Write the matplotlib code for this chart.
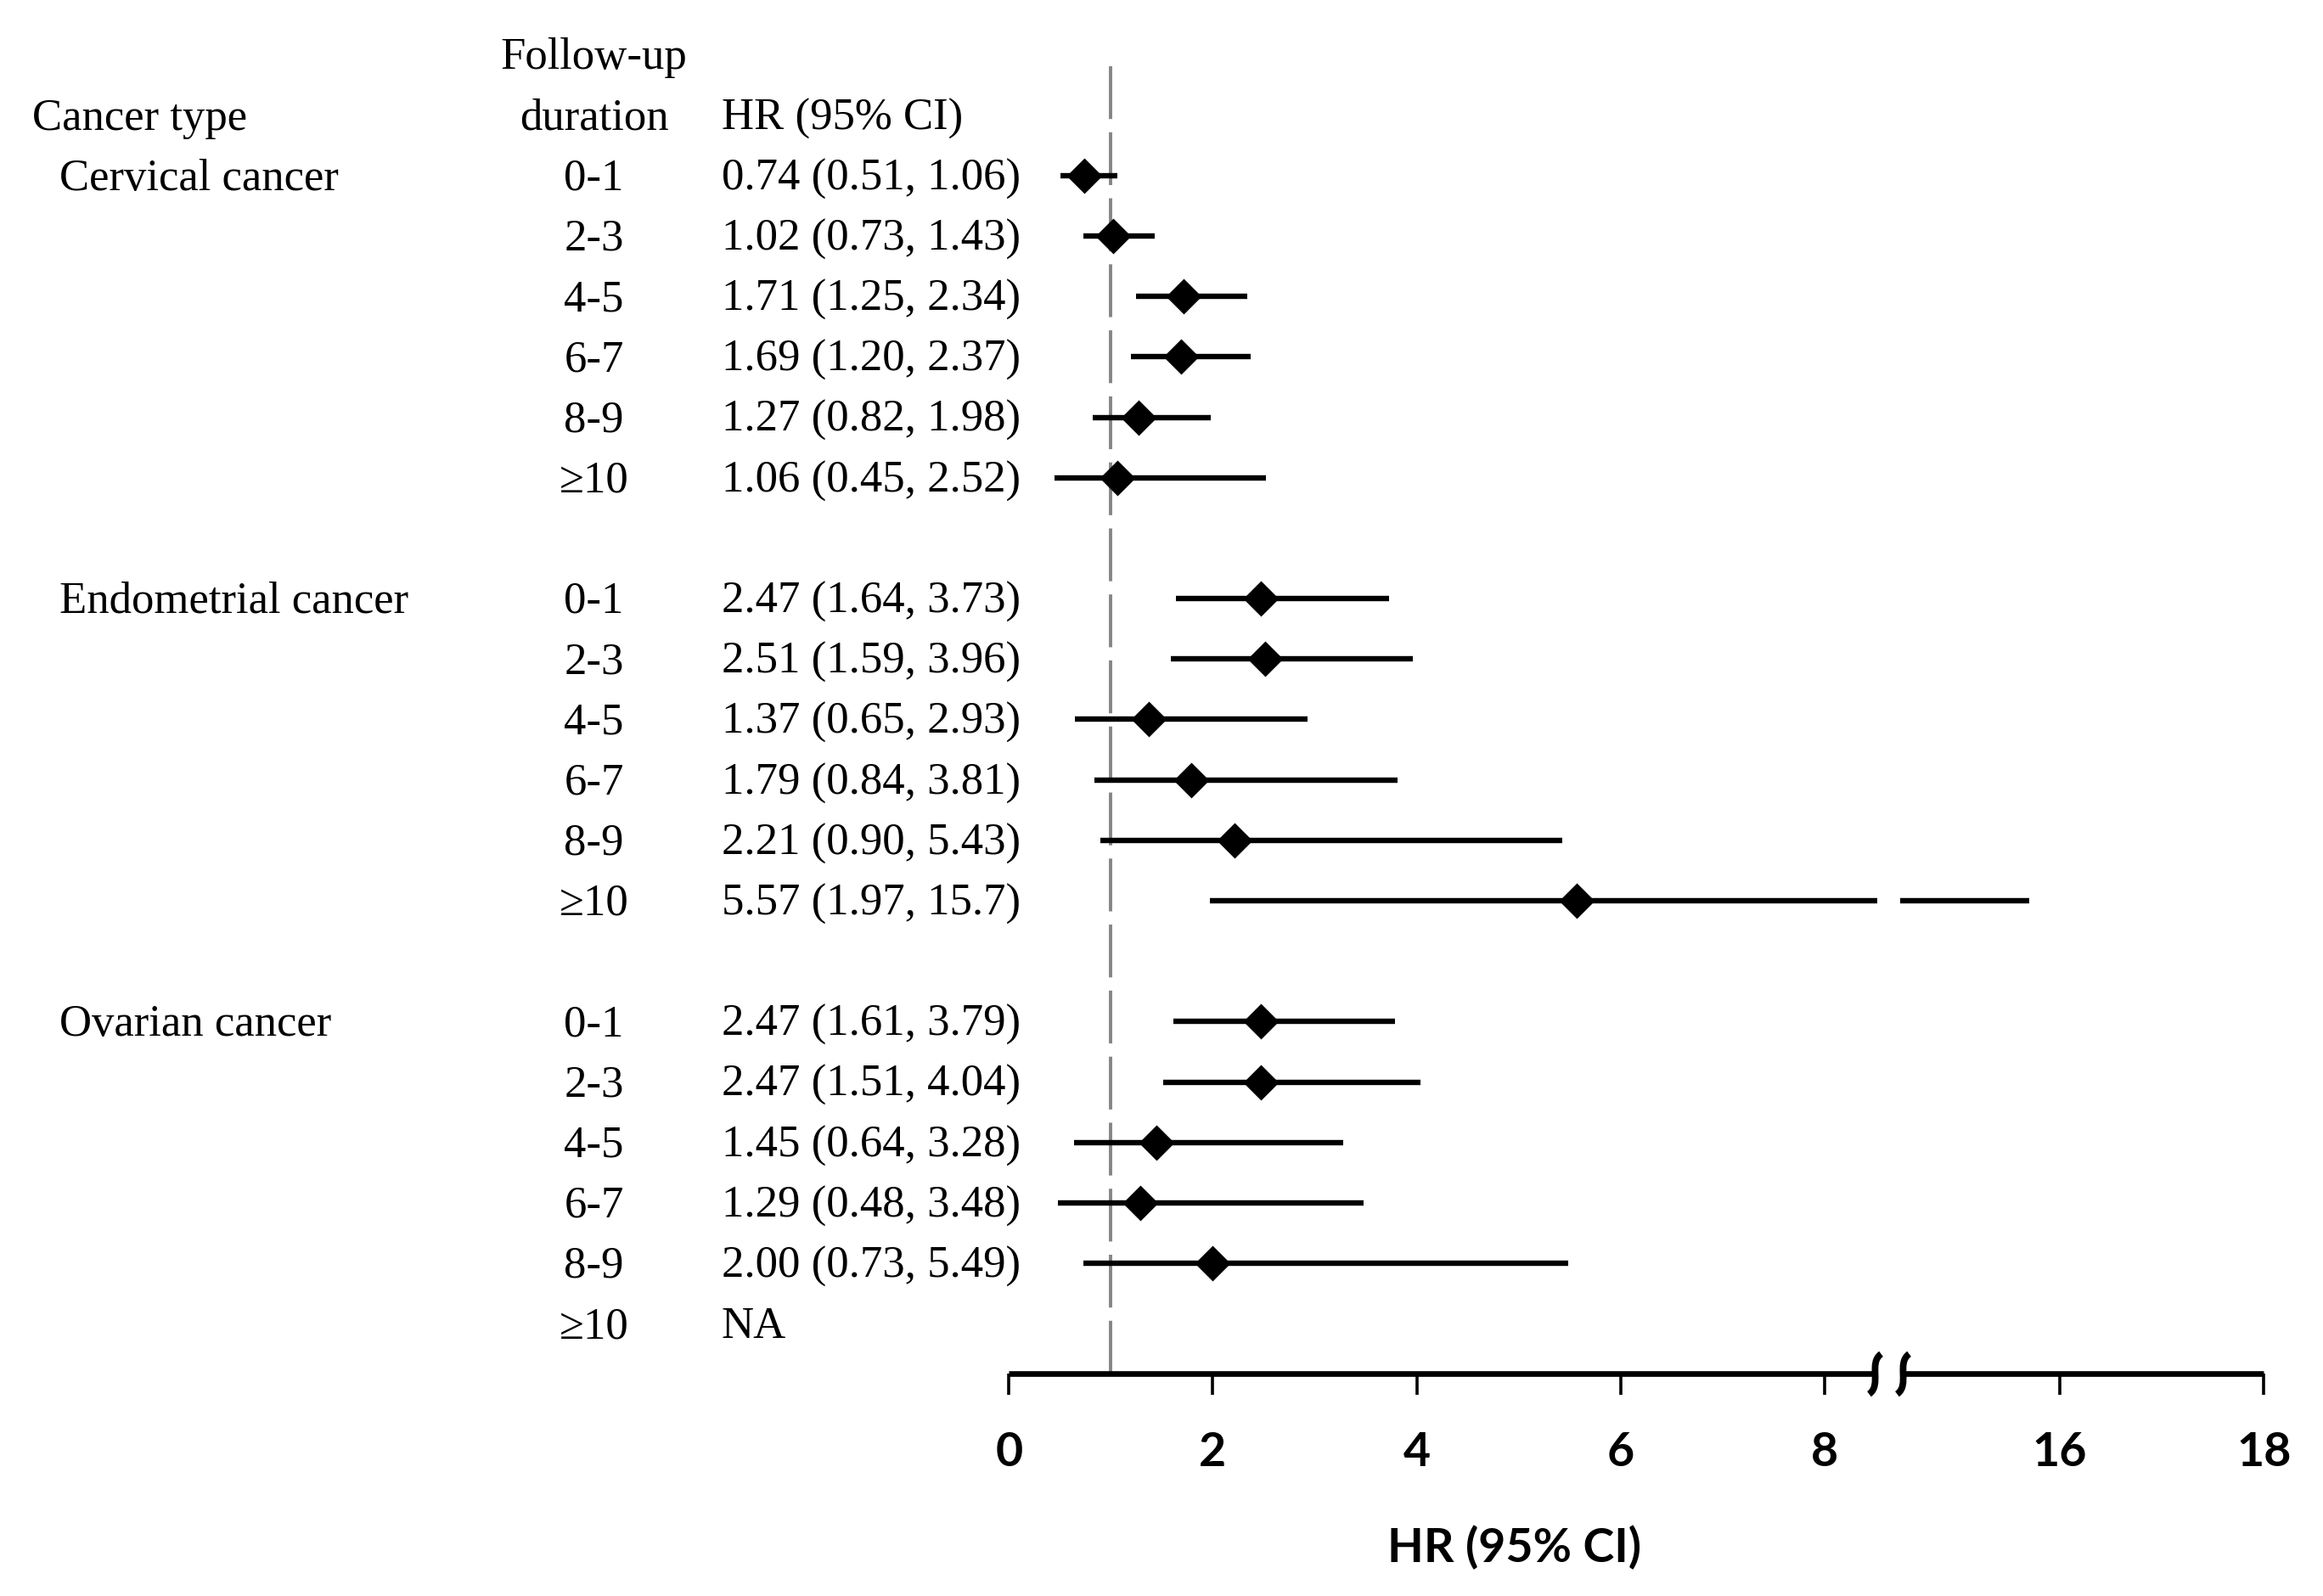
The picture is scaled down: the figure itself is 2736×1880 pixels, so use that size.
import numpy as np
import matplotlib
matplotlib.use('Agg')
import matplotlib.pyplot as plt
import matplotlib.transforms as mtrans
from matplotlib.path import Path

# data
cancer_types = ['Cervical cancer', 'Endometrial cancer', 'Ovarian cancer']
durations = ['0-1', '2-3', '4-5', '6-7', '8-9', '≥10']

cerv_hr = [0.74, 1.02, 1.71, 1.69, 1.27, 1.06]
cerv_lo = [0.51, 0.73, 1.25, 1.20, 0.82, 0.45]
cerv_hi = [1.06, 1.43, 2.34, 2.37, 1.98, 2.52]

endo_hr = [2.47, 2.51, 1.37, 1.79, 2.21, 5.57]
endo_lo = [1.64, 1.59, 0.65, 0.84, 0.90, 1.97]
endo_hi = [3.73, 3.96, 2.93, 3.81, 5.43, 15.7]

ovar_hr = [2.47, 2.47, 1.45, 1.29, 2.00, None]
ovar_lo = [1.61, 1.51, 0.64, 0.48, 0.73, None]
ovar_hi = [3.79, 4.04, 3.28, 3.48, 5.49, None]

cerv_txt = ['0.74 (0.51, 1.06)', '1.02 (0.73, 1.43)', '1.71 (1.25, 2.34)',
            '1.69 (1.20, 2.37)', '1.27 (0.82, 1.98)', '1.06 (0.45, 2.52)']
endo_txt = ['2.47 (1.64, 3.73)', '2.51 (1.59, 3.96)', '1.37 (0.65, 2.93)',
            '1.79 (0.84, 3.81)', '2.21 (0.90, 5.43)', '5.57 (1.97, 15.7)']
ovar_txt = ['2.47 (1.61, 3.79)', '2.47 (1.51, 4.04)', '1.45 (0.64, 3.28)',
            '1.29 (0.48, 3.48)', '2.00 (0.73, 5.49)', 'NA']

xticks = [0, 2, 4, 6, 8, 16, 18]

# broken x axis: 8.6 .. 14.3 squeezed out
B1, B2, SHIFT = 8.6, 14.3, 5.69
D2 = B2 - SHIFT


def fwd(v):
    v = np.asarray(v, dtype=float)
    mid = B1 + (v - B1) * (D2 - B1) / (B2 - B1)
    return np.where(v <= B1, v, np.where(v >= B2, v - SHIFT, mid))


def inv(d):
    d = np.asarray(d, dtype=float)
    mid = B1 + (d - B1) * (B2 - B1) / (D2 - B1)
    return np.where(d <= B1, d, np.where(d >= D2, d + SHIFT, mid))


LINE_CUT = (8.52, 14.43)   # where the long CI line is interrupted
AX_CUT = (8.49, 14.46)     # where the axis line is interrupted

serif = ['Liberation Serif', 'DejaVu Serif']
fs = 19

fig = plt.figure(figsize=(13.68, 9.405), dpi=200)
ax = fig.add_axes([0.4343, 0.1391, 0.5402, 0.8238])
ax.set_xscale('function', functions=(fwd, inv))
ax.set_xlim(0, 18)
ax.set_ylim(19.83, -1.94)

for s in ax.spines.values():
    s.set_visible(False)
ax.set_yticks([])
ax.set_xticks(xticks)
ax.set_xticklabels([str(t) for t in xticks], fontfamily='Lato', fontweight='bold', fontsize=20)
ax.tick_params(axis='x', direction='out', length=9, width=1.3, pad=15, colors='black')
ax.xaxis.set_minor_locator(matplotlib.ticker.NullLocator())

# reference line at HR = 1
ax.axvline(1, color='#858585', lw=1.4, dashes=(16, 4), zorder=1)

bt = mtrans.blended_transform_factory(ax.transData, ax.transAxes)
ax.plot([0, AX_CUT[0]], [0, 0], color='black', lw=2.4, solid_capstyle='butt', transform=bt, clip_on=False)
ax.plot([AX_CUT[1], 18], [0, 0], color='black', lw=2.4, solid_capstyle='butt', transform=bt, clip_on=False)

brk = Path([(0.3, 1), (-0.35, 0.55), (0.35, -0.55), (-0.3, -1)],
           [Path.MOVETO, Path.CURVE4, Path.CURVE4, Path.CURVE4])
ax.plot(list(AX_CUT), [0, 0], ls='none', marker=brk, markersize=17, mec='black', mfc='none',
        mew=2.8, transform=bt, clip_on=False)

lt = mtrans.blended_transform_factory(fig.transFigure, ax.transData)
x_type, x_name, x_dur, x_hr = 0.014, 0.0255, 0.2557, 0.3106
dy = 0.04  # text sits a touch lower than the marks

ax.text(x_type, -1 + dy, 'Cancer type', transform=lt, fontsize=fs, family=serif, va='center', ha='left')
ax.text(x_dur, -2 + dy, 'Follow-up', transform=lt, fontsize=fs, family=serif, va='center', ha='center')
ax.text(x_dur, -1 + dy, 'duration', transform=lt, fontsize=fs, family=serif, va='center', ha='center')
ax.text(x_hr, -1 + dy, 'HR (95% CI)', transform=lt, fontsize=fs, family=serif, va='center', ha='left')

groups = [(cerv_hr, cerv_lo, cerv_hi, cerv_txt),
          (endo_hr, endo_lo, endo_hi, endo_txt),
          (ovar_hr, ovar_lo, ovar_hi, ovar_txt)]

for g, (hr, lo, hi, txt) in enumerate(groups):
    y0 = g * 7
    ax.text(x_name, y0 + dy, cancer_types[g], transform=lt, fontsize=fs, family=serif, va='center', ha='left')
    for i in range(len(durations)):
        y = y0 + i
        ax.text(x_dur, y + dy, durations[i], transform=lt, fontsize=fs, family=serif, va='center', ha='center')
        ax.text(x_hr, y + dy, txt[i], transform=lt, fontsize=fs, family=serif, va='center', ha='left')
        if hr[i] is None:
            continue
        if hi[i] > LINE_CUT[1]:
            ax.hlines(y, lo[i], LINE_CUT[0], color='black', lw=2.3)
            ax.hlines(y, LINE_CUT[1], hi[i], color='black', lw=2.3)
        else:
            ax.hlines(y, lo[i], hi[i], color='black', lw=2.3)
        ax.plot(hr[i], y, marker='D', color='black', markersize=9.5, zorder=3)

fig.text(0.652, 0.031, 'HR (95% CI)', fontfamily='Lato', fontweight='bold', fontsize=20,
         ha='center', va='center')

fig.savefig('out.png', dpi=200)
